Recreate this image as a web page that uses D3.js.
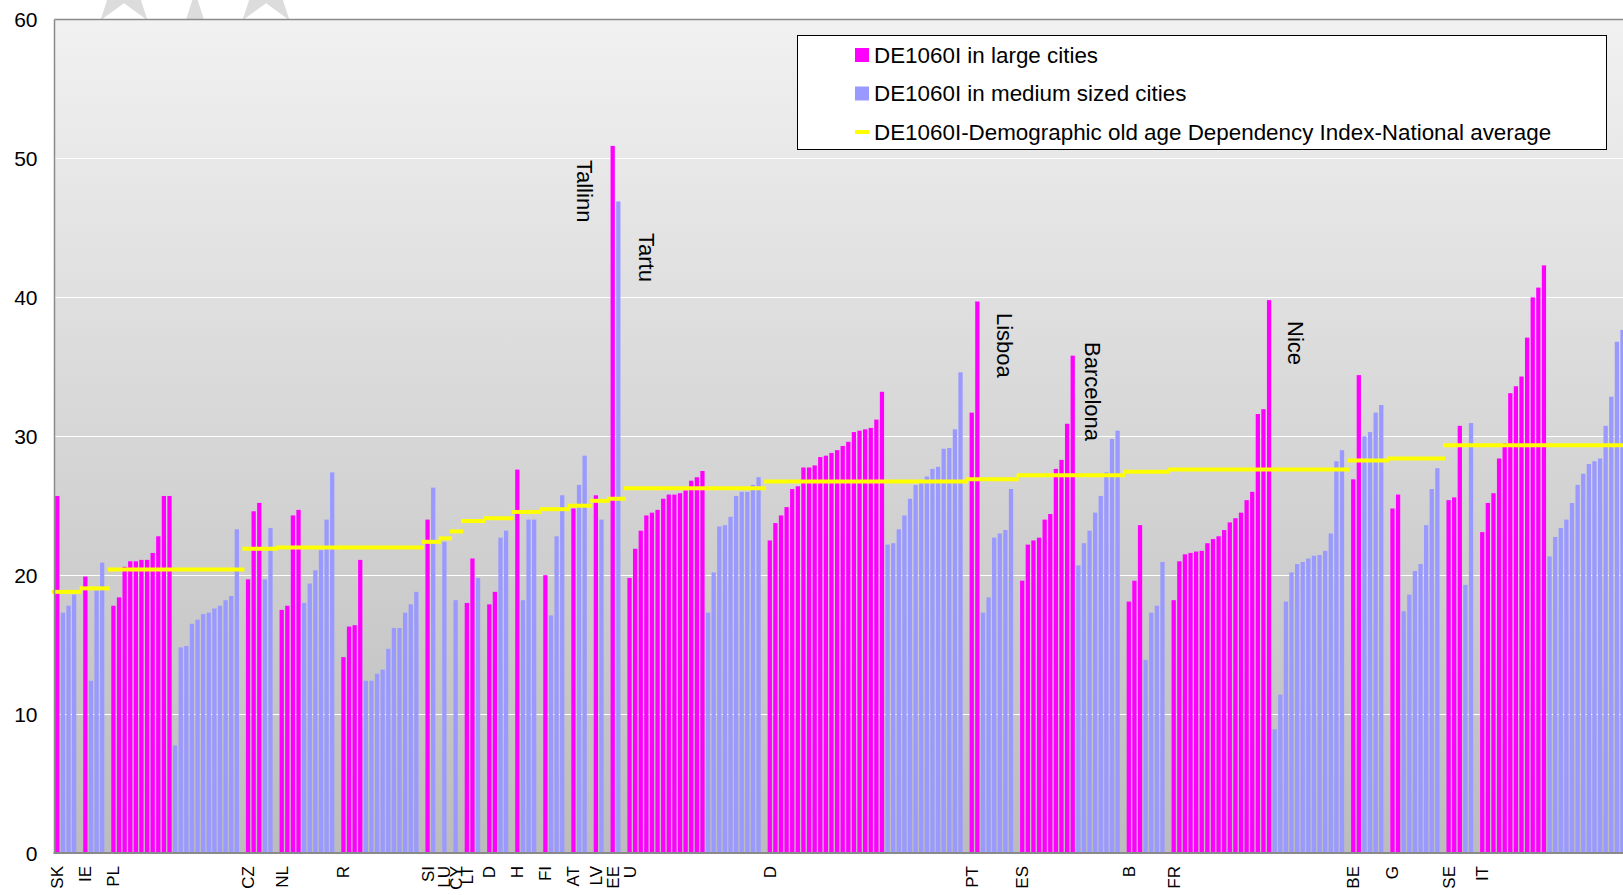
<!DOCTYPE html>
<html>
<head>
<meta charset="utf-8">
<script src="https://cdn.jsdelivr.net/npm/d3@7/dist/d3.min.js"></script>
<style>
  html, body { margin: 0; padding: 0; background: #ffffff; }
  svg { display: block; font-family: "Liberation Sans", Arial, sans-serif; }
</style>
</head>
<body>
<svg id="chart" width="1623" height="895"></svg>
<script>
// ---------------- DATA ----------------
const countryLabels = ["SK","IE","PL","CZ","NL","R","SI","LU","CY","LT","D","H","FI","AT","LV","EE","U","D","PT","ES","B","FR","BE","G","SE","IT"];

const largeCities = [
  [25.7],
  [19.9],
  [17.8, 18.4, 20.6, 21.0, 21.0, 21.1, 21.1, 21.6, 22.8, 25.7, 25.7],
  [19.7, 24.6, 25.2],
  [17.5, 17.8, 24.3, 24.7],
  [14.1, 16.3, 16.4, 21.1],
  [24.0],
  [],
  [],
  [18.0, 21.2],
  [17.9, 18.8],
  [27.6],
  [20.0],
  [24.8],
  [25.75],
  [50.9],
  [19.8, 21.9, 23.2, 24.3, 24.5, 24.7, 25.5, 25.8, 25.8, 25.9, 26.1, 26.8, 27.05, 27.5],
  [22.5, 23.75, 24.3, 24.9, 26.2, 26.4, 27.75, 27.75, 27.9, 28.5, 28.6, 28.8, 29.0, 29.3, 29.6, 30.3, 30.4, 30.5, 30.6, 31.2, 33.2],
  [31.7, 39.7],
  [19.6, 22.2, 22.5, 22.7, 24.0, 24.4, 27.65, 28.3, 30.9, 35.8],
  [18.1, 19.6, 23.6],
  [18.2, 21.0, 21.5, 21.6, 21.7, 21.75, 22.3, 22.6, 22.8, 23.25, 23.8, 24.1, 24.5, 25.4, 26.0, 31.6, 31.95, 39.8],
  [26.9, 34.4],
  [24.8, 25.8],
  [25.4, 25.6, 30.75],
  [23.1, 25.2, 25.9, 28.4, 29.5, 33.1, 33.6, 34.3, 37.1, 40.0, 40.7, 42.3]
];

const mediumCities = [
  [17.3, 17.8, 18.6],
  [12.4, 18.9, 20.9],
  [7.75, 14.8, 14.9, 16.5, 16.8, 17.2, 17.3, 17.6, 17.8, 18.2, 18.5, 23.3],
  [19.7, 23.4],
  [18.0, 19.4, 20.35, 21.8, 24.0, 27.4],
  [12.4, 12.4, 12.9, 13.2, 14.7, 16.2, 16.2, 17.3, 17.9, 18.8],
  [26.3],
  [22.4],
  [18.2],
  [19.8],
  [22.7, 23.2],
  [18.2, 24.0, 24.0],
  [17.1, 22.8, 25.75],
  [26.5, 28.6],
  [24.0],
  [46.9],
  [17.3, 20.2, 23.5, 23.6, 24.2, 25.7, 26.0, 26.0, 26.5, 27.05],
  [22.2, 22.3, 23.3, 24.3, 25.5, 26.5, 26.7, 27.1, 27.65, 27.8, 29.1, 29.15, 30.5, 34.6],
  [17.3, 18.4, 22.7, 23.0, 23.25, 26.2],
  [20.7, 22.3, 23.2, 24.5, 25.7, 27.4, 29.8, 30.4],
  [13.9, 17.3, 17.8, 20.95],
  [8.9, 11.4, 18.1, 20.2, 20.8, 20.95, 21.2, 21.4, 21.45, 21.75, 23.0, 28.2, 29.0],
  [30.0, 30.3, 31.7, 32.25],
  [17.4, 18.6, 20.3, 20.8, 23.6, 26.2, 27.7],
  [19.3, 30.95],
  [21.35, 22.75, 23.4, 24.0, 25.2, 26.5, 27.3, 28.0, 28.2, 28.4, 30.75, 32.85, 36.8, 37.65]
];

const nationalAverage = [18.8, 19.05, 20.4, 21.9, 22.0, 22.0, 22.4, 22.65, 23.15, 23.9, 24.1, 24.55, 24.75, 25.0, 25.35, 25.5, 26.25, 26.75, 26.9, 27.2, 27.45, 27.6, 28.25, 28.4, 29.35, 29.35];

const cityNames = ["Tallinn", "Tartu", "Lisboa", "Barcelona", "Nice"];

const yTicks = [0, 10, 20, 30, 40, 50, 60];

const legendLabels = [
  "DE1060I in large cities",
  "DE1060I in medium sized cities",
  "DE1060I-Demographic old age Dependency Index-National average"
];

// ---------------- BUILD SLOTS ----------------
const bars = [];     // {slot, value, type}
const groups = [];   // {label, start, end, avg}
let slot = 0;
countryLabels.forEach((lab, i) => {
  const start = slot;
  largeCities[i].forEach(v => bars.push({slot: slot++, value: v, type: "large", g: i}));
  mediumCities[i].forEach(v => bars.push({slot: slot++, value: v, type: "medium", g: i}));
  groups.push({label: lab, start, end: slot - 1, avg: nationalAverage[i]});
  if (i < countryLabels.length - 1) slot++; // gap slot
});
const nSlots = slot;

// ---------------- LAYOUT ----------------
const W = 1623, H = 895;
const plot = {left: 54.5, top: 19.5, bottom: 853};
const step = 5.61;
const plotRight = plot.left + nSlots * step;

const svg = d3.select("#chart");

const x = d3.scaleBand()
  .domain(d3.range(nSlots))
  .range([plot.left, plotRight])
  .paddingInner(0.24)
  .paddingOuter(0.12);
const xc = s => plot.left + (s + 0.5) * step;

const y = d3.scaleLinear().domain([0, 60]).range([plot.bottom, plot.top]);

const colors = {large: "#ff00ff", medium: "#9999ff", avg: "#ffff00"};

// ---------------- DECOR: faint stars behind plot ----------------
function starPath(cx, cy, R) {
  const r = R * 0.382;
  const pts = [];
  for (let k = 0; k < 10; k++) {
    const ang = -Math.PI / 2 + k * Math.PI / 5;
    const rr = k % 2 === 0 ? R : r;
    pts.push([cx + rr * Math.cos(ang), cy + rr * Math.sin(ang)]);
  }
  return d3.line()(pts) + "Z";
}
const starSpecs = [[124, -12, 40], [195, 34, 42], [266, -12, 40]];
svg.append("g").selectAll("path").data(starSpecs).join("path")
  .attr("d", d => starPath(d[0], d[1], d[2]))
  .attr("fill", "#dcdcdc");

// ---------------- PLOT BACKGROUND ----------------
const defs = svg.append("defs");
const grad = defs.append("linearGradient").attr("id", "bg").attr("x1", 0).attr("y1", 0).attr("x2", 0).attr("y2", 1);
grad.append("stop").attr("offset", "0%").attr("stop-color", "#f1f1f1");
grad.append("stop").attr("offset", "100%").attr("stop-color", "#bcbcbc");

svg.append("rect")
  .attr("x", plot.left).attr("y", plot.top)
  .attr("width", W - plot.left + 5).attr("height", plot.bottom - plot.top)
  .attr("fill", "url(#bg)");

// gridlines
svg.append("g").selectAll("line").data(yTicks.filter(t => t > 0 && t < 60)).join("line")
  .attr("x1", plot.left).attr("x2", W)
  .attr("y1", d => Math.round(y(d)) + 0.5).attr("y2", d => Math.round(y(d)) + 0.5)
  .attr("stroke", "#ffffff").attr("stroke-width", 1);

// ---------------- BARS ----------------
svg.append("g").selectAll("rect").data(bars).join("rect")
  .attr("x", d => x(d.slot))
  .attr("width", x.bandwidth())
  .attr("y", d => y(d.value))
  .attr("height", d => y(0) - y(d.value))
  .attr("fill", d => colors[d.type]);

// ---------------- NATIONAL AVERAGE LINES ----------------
svg.append("g").selectAll("line").data(groups).join("line")
  .attr("x1", d => xc(d.start - 1))
  .attr("x2", (d, i) => i === groups.length - 1 ? W + 5 : xc(d.end + 1) + 2)
  .attr("y1", d => y(d.avg)).attr("y2", d => y(d.avg))
  .attr("stroke", colors.avg).attr("stroke-width", 4);

// ---------------- AXES / BORDER ----------------
svg.append("line").attr("x1", plot.left).attr("x2", W).attr("y1", plot.top).attr("y2", plot.top)
  .attr("stroke", "#8a8a8a").attr("stroke-width", 1.5);
svg.append("line").attr("x1", plot.left).attr("x2", plot.left).attr("y1", plot.top).attr("y2", plot.bottom)
  .attr("stroke", "#8a8a8a").attr("stroke-width", 1.5);
svg.append("line").attr("x1", plot.left - 1).attr("x2", W).attr("y1", plot.bottom).attr("y2", plot.bottom)
  .attr("stroke", "#8a8a8a").attr("stroke-width", 2);

// y tick labels
svg.append("g").selectAll("text").data(yTicks).join("text")
  .attr("x", 37.5).attr("y", d => y(d))
  .attr("dy", "0.36em")
  .attr("text-anchor", "end")
  .attr("font-size", 21)
  .attr("fill", "#000")
  .text(d => d);

// country labels
svg.append("g").selectAll("text").data(groups).join("text")
  .attr("transform", d => `translate(${xc(d.start) + 6},866) rotate(-90)`)
  .attr("text-anchor", "end")
  .attr("font-size", 17)
  .attr("fill", "#000")
  .text(d => d.label);

// city annotations
const cityPos = [[577, 160], [639, 233], [997, 313], [1085, 342], [1288, 321]];
svg.append("g").selectAll("text").data(cityNames).join("text")
  .attr("transform", (d, i) => `translate(${cityPos[i][0]},${cityPos[i][1]}) rotate(90)`)
  .attr("font-size", 22)
  .attr("fill", "#000")
  .text(d => d);

// ---------------- LEGEND ----------------
const lg = svg.append("g");
lg.append("rect").attr("x", 797.5).attr("y", 35.5).attr("width", 809).attr("height", 114)
  .attr("fill", "#ffffff").attr("stroke", "#000").attr("stroke-width", 1);
const legendRows = [
  {label: legendLabels[0], color: colors.large, kind: "box"},
  {label: legendLabels[1], color: colors.medium, kind: "box"},
  {label: legendLabels[2], color: colors.avg, kind: "line"}
];
legendRows.forEach((r, i) => {
  const cy = 55 + i * 38.5;
  if (r.kind === "box") {
    lg.append("rect").attr("x", 855).attr("y", cy - 7).attr("width", 14).attr("height", 14).attr("fill", r.color);
  } else {
    lg.append("rect").attr("x", 855).attr("y", cy - 2).attr("width", 14).attr("height", 4).attr("fill", r.color);
  }
  lg.append("text").attr("x", 874).attr("y", cy + 7.5)
    .attr("font-size", 22.4).attr("fill", "#000").text(r.label);
});
</script>
</body>
</html>
